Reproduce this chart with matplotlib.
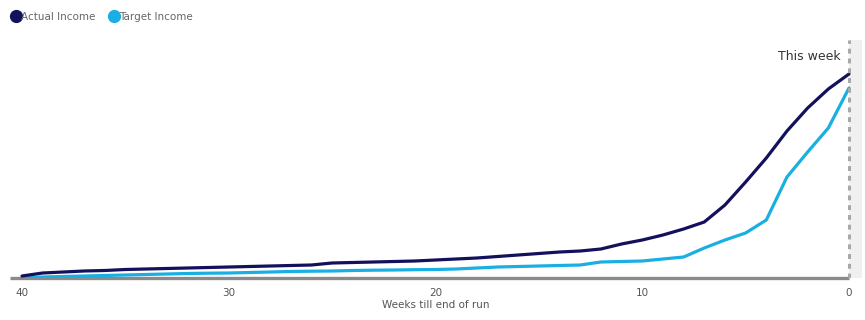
import matplotlib
matplotlib.use("Agg")
import matplotlib.pyplot as plt
from matplotlib.lines import Line2D

weeks = list(range(40, -1, -1))
actual = [2, 5, 6, 7, 7.5, 8.5, 9, 9.5, 10, 10.5, 11, 11.5, 12, 12.5, 13, 15,
          15.5, 16, 16.5, 17, 18, 19, 20, 21.5, 23, 24.5, 26, 27, 29, 34, 38,
          43, 49, 56, 73, 96, 120, 147, 170, 189, 204]
target = [0, 1, 1.5, 2, 2.5, 3, 3.5, 4, 4.5, 4.8, 5, 5.5, 6, 6.5, 6.8, 7,
          7.5, 7.8, 8, 8.3, 8.5, 9, 10, 11, 11.5, 12, 12.5, 13, 16, 16.5, 17,
          19, 21, 30, 38, 45, 58, 101, 126, 150, 190]
xticks = [40, 30, 20, 10, 0]
series_names = ["Actual Income", "Target Income"]
colors = ["#13105c", "#19afe3"]

W, H = 865, 320
fig = plt.figure(figsize=(W / 100, H / 100), dpi=100)
ax = fig.add_axes([10 / W, 42 / H, (862 - 10) / W, (278 - 40) / H])

left_lim = 40 + (22 - 10) / 20.675
right_lim = -(862 - 849) / 20.675
ax.set_xlim(left_lim, right_lim)
ax.set_ylim(0, 238)

ax.axvspan(0, right_lim, color="#f0f0f0", zorder=0, lw=0)
ax.plot(weeks, target, color=colors[1], lw=2.3, solid_capstyle="round", zorder=3)
ax.plot(weeks, actual, color=colors[0], lw=2.3, solid_capstyle="round", zorder=4)
ax.axvline(0, color="#a8a8a8", lw=2.2, ls=(0, (1.6, 1.6)), zorder=5)
ax.plot([left_lim, 0], [0, 0], color="#8a8a8a", lw=2.4, zorder=2,
        solid_capstyle="butt", clip_on=False)

ax.text(0.4, 221, "This week", ha="right", va="center", fontsize=9,
        color="#333333", family="DejaVu Sans")

for s in ax.spines.values():
    s.set_visible(False)
ax.set_yticks([])
ax.set_xticks(xticks)
ax.set_xticklabels([str(t) for t in xticks])
ax.tick_params(axis="x", length=0, pad=7, labelsize=7.5, labelcolor="#555555")
ax.set_xlabel("Weeks till end of run", fontsize=7.5, color="#555555", labelpad=2)

handles = [Line2D([], [], marker="o", ls="", color=c, markersize=8.5) for c in colors]
fig.legend(handles, series_names, loc="upper left", bbox_to_anchor=(10 / W, 1 - 12 / H),
           ncol=2, frameon=False, fontsize=7.5, labelcolor="#666666",
           handletextpad=-0.1, columnspacing=1.1, borderaxespad=0, borderpad=0,
           handlelength=1.2)

fig.savefig("out.png", dpi=100)
